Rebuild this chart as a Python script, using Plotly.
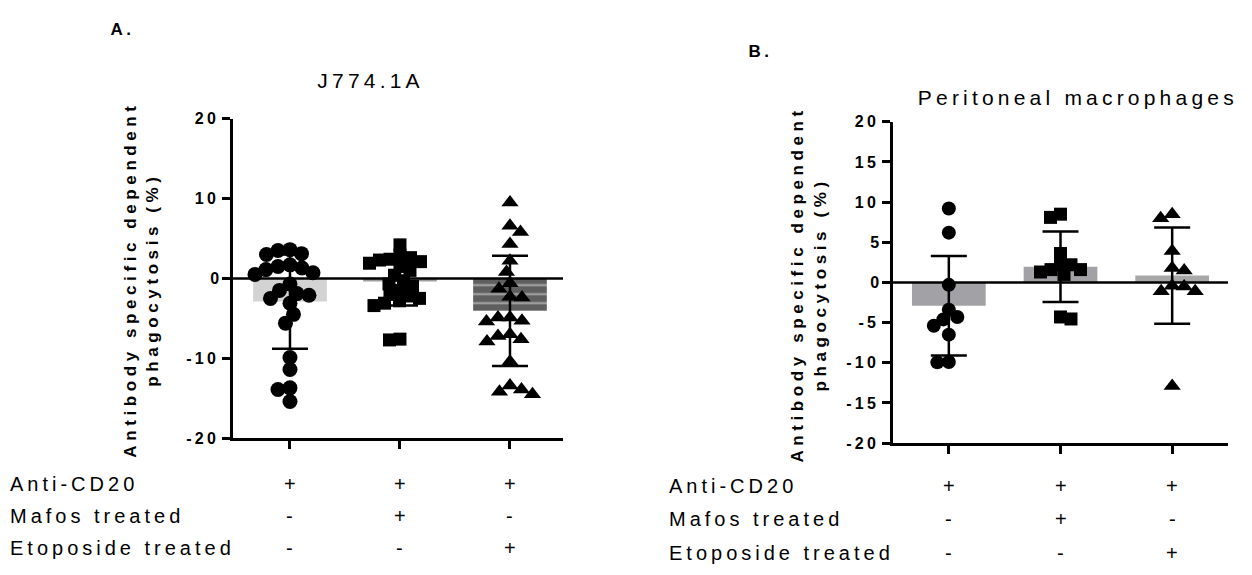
import plotly.graph_objects as go

W, H = 1252, 575

# ---------------- data ----------------
groups = [0, 1, 2]
row_labels = ["Anti-CD20", "Mafos treated", "Etoposide treated"]
row_signs = [["+", "+", "+"], ["-", "+", "-"], ["-", "-", "+"]]

# A. J774.1A
a_ctrl = [3.6, 3.0, 3.1, 3.5, 1.5, 1.1, 1.7, 1.3, 0.7, 0.5, -0.7, -1.9, -2.5,
          -1.5, -2.1, -3.1, -4.5, -5.6, -9.9, -11.4, -13.7, -13.9, -15.4]
a_mafos = [4.2, 2.9, 2.6, 2.4, 2.3, 2.1, 1.9, 1.5, 1.0, 0.4, -0.3, -0.7, -1.0,
           -1.5, -2.0, -2.2, -2.5, -2.8, -3.1, -3.4, -7.6, -7.7]
a_etop = [9.5, 6.6, 5.8, 4.3, 2.2, 0.8, -0.6, -1.3, -2.4, -2.3, -4.9, -5.4, -5.3,
          -4.9, -7.2, -7.0, -7.6, -7.9, -10.4, -13.9, -14.5, -14.2, -13.4]
a_mean = [-2.9, -0.4, -4.05]
a_sd = [5.9, 3.0, 6.9]

# B. Peritoneal macrophages
b_ctrl = [9.2, 6.2, -0.3, -3.4, -4.3, -4.6, -5.4, -6.5, -9.95, -9.9]
b_mafos = [8.5, 8.1, 3.6, 2.2, 2.2, 1.6, 1.6, 1.0, 1.3, -4.55, -4.3]
b_etop = [8.5, 8.0, 3.9, 1.5, 1.8, -0.4, -0.5, -1.1, -1.1, -12.9]
b_mean = [-2.9, 1.95, 0.85]
b_sd = [6.2, 4.4, 6.0]

# ---------------- geometry (pixels) ----------------
A_BOX = dict(x0=233, x1=563, y0=114, y1=443.3)
B_BOX = dict(x0=893, x1=1228, y0=117.3, y1=448.3)
A_XR = [-0.518, 2.482]
B_XR = [-0.5, 2.5]
YR = [-20, 20]

FONT = "Liberation Sans, Arial, sans-serif"


def dom_x(b):
    return [b["x0"] / W, b["x1"] / W]


def dom_y(b):
    return [1 - b["y1"] / H, 1 - b["y0"] / H]


def swarm(vals, px_per_y, px_per_x, d):
    """Spread points sideways so markers d px apart do not stack."""
    order = sorted(range(len(vals)), key=lambda i: -vals[i])
    placed = []
    offs = [0.0] * len(vals)
    for n, i in enumerate(order):
        y = vals[i] * px_per_y
        k = 0
        found = None
        while found is None:
            if k == 0:
                cands = [0.0]
            else:
                cands = [k * 0.5, -k * 0.5] if n % 2 == 0 else [-k * 0.5, k * 0.5]
            for x in cands:
                if all((x - px) ** 2 + (y - py) ** 2 >= d * d for px, py in placed):
                    found = x
                    break
            k += 1
        placed.append((found, y))
        offs[i] = found / px_per_x
    return offs


fig = go.Figure()


def panel(box, xr, xa, ya, series, symbols, sizes, mean, sd, colors, shapes, bar_w):
    px_y = (box["y1"] - box["y0"]) / (YR[1] - YR[0])
    px_x = (box["x1"] - box["x0"]) / (xr[1] - xr[0])
    fig.add_trace(go.Bar(
        x=groups, y=mean, width=bar_w, xaxis=xa, yaxis=ya,
        marker=dict(color=colors, line=dict(width=0),
                    pattern=dict(shape=shapes, fgcolor="#a8a8a8", size=9,
                                 solidity=0.2, fillmode="overlay")),
    ))
    fig.add_trace(go.Scatter(
        x=groups, y=mean, mode="markers", xaxis=xa, yaxis=ya,
        marker=dict(size=1, opacity=0),
        error_y=dict(type="data", array=sd, color="black", thickness=2.5, width=18),
    ))
    for g, vals, sym, sz in zip(groups, series, symbols, sizes):
        offs = swarm(vals, px_y, px_x, sz * 0.8)
        fig.add_trace(go.Scatter(
            x=[g + o for o in offs], y=vals, mode="markers", xaxis=xa, yaxis=ya,
            marker=dict(symbol=sym, size=sz, color="black", line=dict(width=0)),
            cliponaxis=False,
        ))


panel(A_BOX, A_XR, "x", "y", [a_ctrl, a_mafos, a_etop],
      ["circle", "square", "triangle-up"], [15, 13, 15],
      a_mean, a_sd, ["#d3d3d3", "#9f9f9f", "#5f5f5f"], ["", "", "-"], 0.67)
panel(B_BOX, B_XR, "x2", "y2", [b_ctrl, b_mafos, b_etop],
      ["circle", "square", "triangle-up"], [14, 13, 15],
      b_mean, b_sd, ["#a2a2a6", "#a2a2a6", "#a8a8a8"], ["", "", ""], 0.66)

axis_common = dict(showline=True, linecolor="black", linewidth=2.5, ticks="outside",
                   ticklen=8, tickwidth=2.5, tickcolor="black", showgrid=False,
                   zeroline=False, fixedrange=True)
tick_font = dict(family=FONT, size=16, color="black", weight="bold")

a_ticks = [-20, -10, 0, 10, 20]
b_ticks = [-20, -15, -10, -5, 0, 5, 10, 15, 20]

fig.update_layout(
    width=W, height=H, margin=dict(l=0, r=0, t=0, b=0),
    paper_bgcolor="white", plot_bgcolor="white", showlegend=False, barmode="overlay",
    xaxis=dict(domain=dom_x(A_BOX), range=A_XR, anchor="y", tickvals=groups,
               showticklabels=False, **axis_common),
    yaxis=dict(domain=dom_y(A_BOX), range=YR, anchor="x", tickvals=a_ticks,
               ticktext=[str(t) for t in a_ticks], tickfont=tick_font, **axis_common),
    xaxis2=dict(domain=dom_x(B_BOX), range=B_XR, anchor="y2", tickvals=groups,
                showticklabels=False, **axis_common),
    yaxis2=dict(domain=dom_y(B_BOX), range=YR, anchor="x2", tickvals=b_ticks,
                ticktext=[str(t) for t in b_ticks], tickfont=tick_font, **axis_common),
)

# zero reference lines
for xa, ya in (("x", "y"), ("x2", "y2")):
    fig.add_shape(type="line", xref=f"{xa} domain", yref=ya, x0=0, x1=1, y0=0, y1=0,
                  line=dict(color="black", width=2.5), layer="above")


def px_ann(text, x, y, size, bold=False, xanchor="center", angle=0):
    fig.add_annotation(text=text, x=x / W, y=1 - y / H, xref="paper", yref="paper",
                       xanchor=xanchor, yanchor="middle", showarrow=False,
                       align="left" if xanchor == "left" else "center", textangle=angle,
                       font=dict(family=FONT, size=size, color="black",
                                 weight="bold" if bold else "normal"))


px_ann("A.", 122, 22, 17, bold=True)
px_ann("B.", 760, 45, 17, bold=True)
px_ann("J774.1A", 370, 75, 21)
px_ann("Peritoneal macrophages", 1078, 92, 21)
ytitle = "Antibody specific dependent<br>phagocytosis (%)"
px_ann(ytitle, 142, 280, 17, bold=True, angle=-90)
px_ann(ytitle, 809, 285, 17, bold=True, angle=-90)

for (lx, ys, xa) in ((8, [490, 523, 556], "x"), (667, [493, 527, 562], "x2")):
    for lab, yy, signs in zip(row_labels, ys, row_signs):
        px_ann(lab, lx, yy, 20, xanchor="left")
        for g, s in zip(groups, signs):
            fig.add_annotation(text=s, x=g, y=1 - yy / H, xref=xa, yref="paper",
                               showarrow=False, xanchor="center", yanchor="middle",
                               font=dict(family=FONT, size=20, color="black"))

# spaced lettering for all labels
post_js = """
var gd = document.getElementById('{plot_id}');
gd.querySelectorAll('svg text').forEach(function (t) {
    var s = t.textContent || '';
    if (s.length < 2) { return; }
    t.style.letterSpacing = s.indexOf('phagocytosis') >= 0 ? '0.27em' : '0.2em';
});
"""

fig.write_html("out.html", post_script=post_js)
